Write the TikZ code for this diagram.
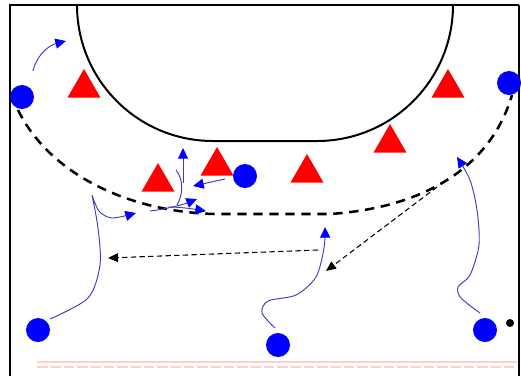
\documentclass[tikz,border=0pt]{standalone}
\usetikzlibrary{shapes.geometric,arrows.meta}
\definecolor{runblue}{RGB}{60,60,190}
\definecolor{faintpink}{RGB}{255,205,205}
\tikzset{
    attacker/.style={circle, fill=blue, minimum size=18pt, inner sep=0pt},
    defender/.style={regular polygon, regular polygon sides=3, fill=red, minimum size=28.5pt, inner sep=0pt},
    ballmark/.style={circle, fill=black, minimum size=6pt, inner sep=0pt},
    run/.style={runblue, line width=0.7pt, -{Triangle[length=8pt,width=7.5pt,color=blue]}},
    runline/.style={runblue, line width=0.7pt},
    pass/.style={black, line width=0.8pt, dash pattern=on 4pt off 2.5pt, -{Triangle[length=7.5pt,width=6.5pt]}},
}
\begin{document}
\begin{tikzpicture}[x=0.75pt,y=0.75pt,yscale=-1,xscale=1]
            \useasboundingbox (0,0) rectangle (521,376);
            %court
            \draw[line width=2.2pt] (10,376) -- (10,5) -- (519,5);
            \draw[line width=1.2pt] (519,5) -- (519,376);
            \draw[faintpink, line width=1pt] (37,362) -- (517,362);
            \draw[faintpink, line width=0.8pt, dash pattern=on 8pt off 2pt] (37,367) -- (517,367);
            %
            %goal area
            \draw[line width=1.5pt] (77,5) arc[start angle=180, end angle=90, radius=136] -- (317,141) arc[start angle=90, end angle=0, radius=136];
            %free throw line
            \draw[line width=1.9pt, dash pattern=on 7pt off 5pt] (18,110) .. controls (50,175) and (130,212) .. (215,214) -- (330,214) .. controls (420,208) and (490,170) .. (512,95);
            %
            %defenders
            \node[defender] (d1) at (84,88) {};
            \node[defender] (d2) at (158,182) {};
            \node[defender] (d3) at (217,166) {};
            \node[defender] (d4) at (307,173) {};
            \node[defender] (d5) at (390,143) {};
            \node[defender] (d6) at (448,88) {};
            %attackers
            \node[attacker] (lw) at (22,97) {};
            \node[attacker] (rw) at (509,83) {};
            \node[attacker] (pv) at (245,176) {};
            \node[attacker] (lb) at (38,330) {};
            \node[attacker] (cb) at (278,345) {};
            \node[attacker] (rb) at (485,330) {};
            \node[ballmark] (ball) at (510,323) {};
            %
            %runs
            \coordinate (lwgo) at (33,71);
            \coordinate (lwto) at (66,41);
            \draw[run] (lwgo) .. controls (37,54) and (50,45) .. (lwto);
            \draw[run] plot[smooth] coordinates {(50,319) (88,298) (100,265) (98,228) (92,195)}
                -- plot[smooth] coordinates {(92,195) (99,211) (112,218) (136,213)};
            \draw[run] plot[smooth] coordinates {(275,328) (262,313) (268,301) (296,295) (316,277) (324,248) (325,227)};
            \draw[run] plot[smooth] coordinates {(480,313) (461,298) (458,287) (470,275) (479,245) (477,210) (470,180) (457,157)};
            %
            %pivot and crossing
            \coordinate (pvgo) at (225,179);
            \coordinate (pvto) at (193,186);
            \draw[run] (pvgo) -- (pvto);
            \draw[runline] (176,170) .. controls (184,180) and (183,195) .. (177,205);
            \draw[run] (183,183) -- (183,148);
            \draw[run] (150,211) .. controls (166,209) and (182,205) .. (197,199);
            \draw[run] (168,207) .. controls (181,207) and (193,209) .. (206,211);
            %
            %passes
            \draw[pass] (437,187) -- (326,271);
            \draw[pass] (318,250) -- (108,258);
        \end{tikzpicture}
\end{document}
